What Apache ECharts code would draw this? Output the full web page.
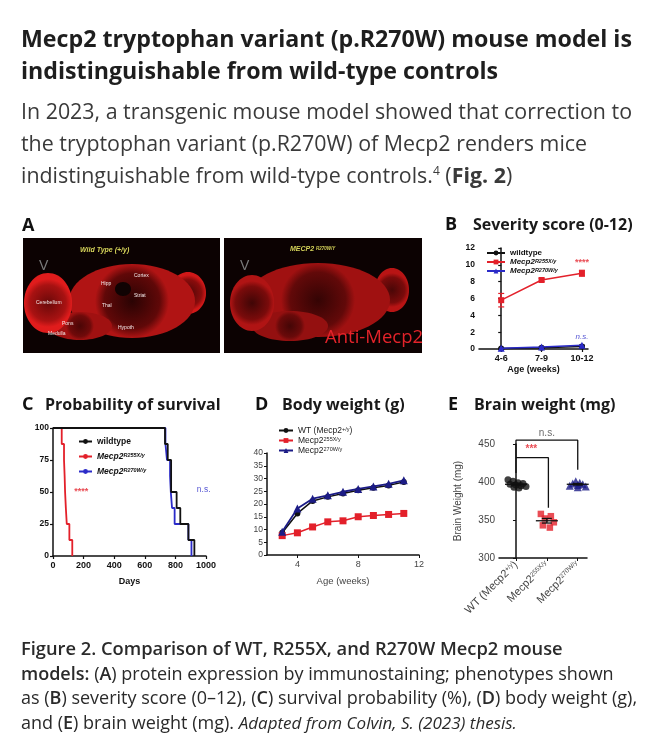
<!DOCTYPE html>
<html><head><meta charset="utf-8">
<script src="https://cdn.jsdelivr.net/npm/echarts@6/dist/echarts.min.js"></script>
<style>
html,body{margin:0;padding:0;background:#fff;width:657px;height:754px;overflow:hidden;}
#chart{position:absolute;left:0;top:0;width:657px;height:754px;}
.t{position:absolute;font-family:"Open Sans",sans-serif;white-space:nowrap;pointer-events:none;}
#title{left:21px;top:22px;font-size:23.2px;line-height:32px;font-weight:700;color:#1e1e1e;}
#para{left:21px;top:95px;font-size:21.4px;line-height:32px;color:#3a3a3a;}
#para sup{font-size:12px;line-height:0;vertical-align:super;}
#cap{left:21px;top:636px;font-size:18px;line-height:24.6px;color:#2a2a2a;}
#cap b{font-weight:600;}
#cap b.w{font-size:18.3px;}
#cap i{font-size:17px;}
.pl{font-size:18px;line-height:18px;font-weight:700;color:#111;}
.pt{font-size:16px;line-height:16px;font-weight:700;color:#1a1a1a;}
</style></head>
<body>
<div id="chart"></div>
<div class="t" id="title">Mecp2 tryptophan variant (p.R270W) mouse model is<br>indistinguishable from wild-type controls</div>
<div class="t" id="para">In 2023, a transgenic mouse model showed that correction to<br>the tryptophan variant (p.R270W) of Mecp2 renders mice<br>indistinguishable from wild-type controls.<sup>4</sup> (<b>Fig. 2</b>)</div>
<div class="t pl" style="left:22px;top:215px;">A</div>
<div class="t pl" style="left:445px;top:214px;">B</div>
<div class="t pt" style="left:473px;top:216px;">Severity score (0-12)</div>
<div class="t pl" style="left:22px;top:394px;">C</div>
<div class="t pt" style="left:45px;top:396px;">Probability of survival</div>
<div class="t pl" style="left:255px;top:394px;">D</div>
<div class="t pt" style="left:282px;top:396px;">Body weight (g)</div>
<div class="t pl" style="left:448px;top:394px;">E</div>
<div class="t pt" style="left:474px;top:396px;">Brain weight (mg)</div>
<div class="t" id="cap"><b class="w">Figure 2. Comparison of WT, R255X, and R270W Mecp2 mouse</b><br><b>models:</b> (<b>A</b>) protein expression by immunostaining; phenotypes shown<br>as (<b>B</b>) severity score (0–12), (<b>C</b>) survival probability (%), (<b>D</b>) body weight (g),<br>and (<b>E</b>) brain weight (mg). <i>Adapted from Colvin, S. (2023) thesis.</i></div>
<script>
// ---------- DATA ----------
const severityCats = ['4-6', '7-9', '10-12'];
const sevWT = [0.05, 0.15, 0.3];
const sevWTErr = [0.05, 0.1, 0.15];
const sevR255X = [5.8, 8.2, 9.0];
const sevR255XErr = [0.8, 0.2, 0.35];
const sevR270W = [0.1, 0.25, 0.45];
const sevR270WErr = [0.05, 0.1, 0.1];

// survival: [day, % surviving from that day on]
const survR255X = [[0,100],[57,87.5],[72,75],[76,62.5],[79,50],[84,37.5],[90,25],[107,12.5],[126,0]];
const survWT = [[0,100],[732,87.5],[750,75],[772,50],[808,37.5],[832,25],[885,12.5],[924,0]];
const survR270W = [[0,100],[735,87.5],[745,75],[765,62.5],[770,50],[778,37.5],[795,25],[885,12.5],[905,0]];

const bwWeeks = [3, 4, 5, 6, 7, 8, 9, 10, 11];
const bwWT = [8.7, 16.3, 21.2, 22.8, 24.1, 25.4, 26.4, 27.3, 28.6];
const bwR270W = [9.1, 18.2, 22.1, 23.4, 24.8, 25.9, 26.9, 27.9, 29.3];
const bwR255X = [7.6, 8.7, 11.0, 13.0, 13.4, 15.0, 15.5, 15.9, 16.3];
const bwXTicks = [4, 8, 12];

const brainCats = ['WT (Mecp2{s|+/y})', 'Mecp2{s|255X/y}', 'Mecp2{s|270W/y}'];
const brainWT = [403, 401, 399, 398, 397, 396, 395, 394, 393, 392];
const brainR255X = [358, 355, 352, 347, 343, 340];
const brainR270W = [401, 399, 398, 397, 396, 395, 394, 393];
const brainMean = [397, 349, 397];
const brainSem = [1.2, 3.0, 1.0];

// ---------- STYLE ----------
const RED = '#e3202a', BLUE = '#2b2bc8', NAVY = '#1c1c86', BLK = '#111';
const F = 'Liberation Sans';
const wtJitter = [-8, -3, 2, 7, -6, 0, 5, 10, -2, 3];
const r255Jitter = [-6, 4, -2, 7, -4, 3];
const r270Jitter = [-2, 2, -5, 5, 0, -8, 8, 0];

const rich = {
  sup: {fontSize: 5.5, verticalAlign: 'top', fontFamily: F},
  supi: {fontSize: 5.5, verticalAlign: 'top', fontFamily: F, fontStyle: 'italic'},
  it: {fontStyle: 'italic', fontFamily: F}
};

const legendNames = {
  sevWT: 'wildtype', sevR255X: '{it|Mecp2}{supi|R255X/y}', sevR270W: '{it|Mecp2}{supi|R270W/y}',
  svWT: 'wildtype', svR255X: '{it|Mecp2}{supi|R255X/y}', svR270W: '{it|Mecp2}{supi|R270W/y}',
  bwWT: 'WT (Mecp2{sup|+/y})', bwR255X: 'Mecp2{sup|255X/y}', bwR270W: 'Mecp2{sup|270W/y}'
};

function errBar(color) {
  return function (params, api) {
    const x = api.value(0), lo = api.value(1), hi = api.value(2);
    const a = api.coord([x, lo]), b = api.coord([x, hi]);
    const w = 3;
    const st = {stroke: color, lineWidth: 1.2};
    return {type: 'group', children: [
      {type: 'line', shape: {x1: a[0], y1: a[1], x2: b[0], y2: b[1]}, style: st},
      {type: 'line', shape: {x1: a[0]-w, y1: a[1], x2: a[0]+w, y2: a[1]}, style: st},
      {type: 'line', shape: {x1: b[0]-w, y1: b[1], x2: b[0]+w, y2: b[1]}, style: st}
    ]};
  };
}

const chart = echarts.init(document.getElementById('chart'), null, {renderer: 'canvas'});

// ---------- Panel A graphics (immunostaining photos, approximated) ----------
function brainGrad(inner, mid, edge) {
  return {type: 'radial', x: 0.5, y: 0.5, r: 0.5, colorStops: [
    {offset: 0, color: inner}, {offset: 0.75, color: mid}, {offset: 1, color: edge}]};
}
const smallLbl = (txt, x, y) => ({type: 'text', left: x, top: y, style: {text: txt, fill: '#f3e8e8', font: '5px ' + F}});
const graphic = [
  {type: 'rect', shape: {x: 23, y: 238, width: 197, height: 115}, style: {fill: '#0c0202'}},
  {type: 'rect', shape: {x: 224, y: 238, width: 198, height: 115}, style: {fill: '#0c0202'}},
  // left brain
  {type: 'ellipse', shape: {cx: 188, cy: 293, rx: 18, ry: 21}, style: {fill: brainGrad('#4a0707', '#8a0c0c', '#d01818')}},
  {type: 'ellipse', shape: {cx: 132, cy: 301, rx: 63, ry: 37}, style: {fill: brainGrad('#2a0303', '#600808', '#b01414')}},
  {type: 'ellipse', shape: {cx: 80, cy: 326, rx: 32, ry: 14}, style: {fill: brainGrad('#4a0606', '#700a0a', '#a01111')}},
  {type: 'ellipse', shape: {cx: 48, cy: 303, rx: 24, ry: 30}, style: {fill: brainGrad('#6a0909', '#a81212', '#e01c1c')}},
  {type: 'ellipse', shape: {cx: 123, cy: 289, rx: 8, ry: 7}, style: {fill: '#100303'}},
  // right brain
  {type: 'ellipse', shape: {cx: 392, cy: 290, rx: 17, ry: 22}, style: {fill: brainGrad('#4a0707', '#7a0b0b', '#b81414')}},
  {type: 'ellipse', shape: {cx: 318, cy: 300, rx: 72, ry: 37}, style: {fill: brainGrad('#340404', '#620909', '#a01111')}},
  {type: 'ellipse', shape: {cx: 290, cy: 326, rx: 38, ry: 15}, style: {fill: brainGrad('#440606', '#6a0a0a', '#941010')}},
  {type: 'ellipse', shape: {cx: 252, cy: 303, rx: 22, ry: 28}, style: {fill: brainGrad('#400606', '#7a0b0b', '#b01414')}},
  // labels
  {type: 'text', left: 39, top: 259, style: {text: 'V', fill: '#7a7a7a', font: '14px ' + F}},
  {type: 'text', left: 240, top: 259, style: {text: 'V', fill: '#7a7a7a', font: '14px ' + F}},
  {type: 'text', left: 80, top: 247, style: {text: 'Wild Type (+/y)', fill: '#d6d45a', font: 'italic bold 7px ' + F}},
  {type: 'text', left: 290, top: 246, style: {text: '{a|MECP2 }{b|R270W/Y}', rich: {a: {fill: '#d6d45a', font: 'italic bold 7px ' + F}, b: {fill: '#d6d45a', font: 'italic bold 4.5px ' + F, verticalAlign: 'top'}}}},
  smallLbl('Cortex', 134, 273), smallLbl('Hipp', 101, 281), smallLbl('Striat', 134, 293),
  smallLbl('Thal', 102, 303), smallLbl('Cerebellum', 36, 300), smallLbl('Pons', 62, 321),
  smallLbl('Medulla', 48, 331), smallLbl('Hypoth', 118, 325),
  {type: 'text', left: 325, top: 328, style: {text: 'Anti-Mecp2', fill: '#e3232a', font: '18.5px "Open Sans", sans-serif'}}
];

const axisLbl = (extra) => Object.assign({fontFamily: F, fontSize: 9, color: '#111', fontWeight: 'bold'}, extra || {});
const axLine = {lineStyle: {color: '#111', width: 1.5}};

const option = {
  animation: false,
  backgroundColor: '#fff',
  graphic: graphic,
  grid: [
    {left: 479, top: 248, width: 109, height: 101},
    {left: 53, top: 428, width: 153, height: 128},
    {left: 267, top: 453, width: 152, height: 102},
    {left: 499, top: 444, width: 88, height: 114}
  ],
  legend: [
    {orient: 'vertical', left: 481, top: 244, itemWidth: 18, itemHeight: 6, itemGap: 1,
     data: ['sevWT', 'sevR255X', 'sevR270W'], formatter: n => legendNames[n],
     textStyle: {fontFamily: F, fontSize: 8, fontWeight: 'bold', color: '#111', rich: rich}},
    {orient: 'vertical', left: 73, top: 432, itemWidth: 13, itemHeight: 6, itemGap: 6,
     data: ['svWT', 'svR255X', 'svR270W'], formatter: n => legendNames[n],
     textStyle: {fontFamily: F, fontSize: 8.5, fontWeight: 'bold', color: '#111', rich: rich}},
    {orient: 'vertical', left: 273, top: 421, itemWidth: 14, itemHeight: 6, itemGap: 1,
     data: ['bwWT', 'bwR255X', 'bwR270W'], formatter: n => legendNames[n],
     textStyle: {fontFamily: F, fontSize: 8.5, color: '#222', rich: rich}}
  ],
  xAxis: [
    {gridIndex: 0, type: 'value', min: -0.55, max: 2.15, axisLine: axLine, splitLine: {show: false},
     axisTick: {customValues: [0, 1, 2], length: 3, lineStyle: {color: '#111', width: 1.2}},
     axisLabel: Object.assign(axisLbl(), {customValues: [0, 1, 2], formatter: v => severityCats[Math.round(v)], margin: 5}),
     name: 'Age (weeks)', nameLocation: 'middle', nameGap: 16, nameTextStyle: axisLbl({fontSize: 9})},
    {gridIndex: 1, type: 'value', min: 0, max: 1000, interval: 200, axisLine: axLine, splitLine: {show: false},
     axisTick: {length: 3, lineStyle: {color: '#111', width: 1.2}},
     axisLabel: axisLbl({margin: 5, formatter: v => String(v)}),
     name: 'Days', nameLocation: 'middle', nameGap: 21, nameTextStyle: axisLbl({fontSize: 9})},
    {gridIndex: 2, type: 'value', min: 2, max: 12, axisLine: axLine, splitLine: {show: false},
     axisTick: {customValues: bwXTicks, length: 3, lineStyle: {color: '#111'}},
     axisLabel: {customValues: bwXTicks, fontFamily: F, fontSize: 9, color: '#444', margin: 5},
     name: 'Age (weeks)', nameLocation: 'middle', nameGap: 21, nameTextStyle: {fontFamily: F, fontSize: 9.5, color: '#444'}},
    {gridIndex: 3, type: 'value', min: -0.55, max: 2.3, axisLine: axLine, splitLine: {show: false},
     axisTick: {customValues: [0, 1, 2], length: 3, lineStyle: {color: '#111'}},
     axisLabel: {customValues: [0, 1, 2], rotate: 45, margin: 5, fontFamily: F, fontSize: 11, color: '#444',
       formatter: v => brainCats[Math.round(v)],
       rich: {s: {fontSize: 6.5, verticalAlign: 'top', fontFamily: F, color: '#444'}}}}
  ],
  yAxis: [
    {gridIndex: 0, type: 'value', min: 0, max: 12, interval: 2, axisLine: Object.assign({show: true}, axLine), splitLine: {show: false},
     axisTick: {show: true, length: 3, lineStyle: {color: '#111', width: 1.2}}, axisLabel: axisLbl({margin: 4, fontSize: 8.5})},
    {gridIndex: 1, type: 'value', min: 0, max: 100, interval: 25, axisLine: Object.assign({show: true}, axLine), splitLine: {show: false},
     axisTick: {show: true, length: 3, lineStyle: {color: '#111', width: 1.2}}, axisLabel: axisLbl({margin: 4, fontSize: 8.5})},
    {gridIndex: 2, type: 'value', min: 0, max: 40, interval: 5, axisLine: Object.assign({show: true}, axLine), splitLine: {show: false},
     axisTick: {show: true, length: 3, lineStyle: {color: '#111'}}, axisLabel: {fontFamily: F, fontSize: 8.5, color: '#444', margin: 4}},
    {gridIndex: 3, type: 'value', min: 300, max: 450, interval: 50, axisLine: Object.assign({show: true}, axLine), splitLine: {show: false},
     axisTick: {show: true, length: 3, lineStyle: {color: '#111'}}, axisLabel: {fontFamily: F, fontSize: 10, color: '#444', margin: 4},
     name: 'Brain Weight (mg)', nameLocation: 'middle', nameGap: 36, nameTextStyle: {fontFamily: F, fontSize: 10, color: '#444'}}
  ],
  series: [
    // ---- B severity ----
    {type: 'custom', xAxisIndex: 0, yAxisIndex: 0, renderItem: errBar(RED), data: sevR255X.map((v, i) => [i, v - sevR255XErr[i], v + sevR255XErr[i]]), z: 3},
    {type: 'custom', xAxisIndex: 0, yAxisIndex: 0, renderItem: errBar(BLK), data: sevWT.map((v, i) => [i, v - sevWTErr[i], v + sevWTErr[i]]), z: 3},
    {name: 'sevWT', type: 'line', xAxisIndex: 0, yAxisIndex: 0, data: sevWT.map((v, i) => [i, v]),
     symbol: 'circle', symbolSize: 6, itemStyle: {color: BLK}, lineStyle: {color: BLK, width: 1.5}, z: 4},
    {name: 'sevR255X', type: 'line', xAxisIndex: 0, yAxisIndex: 0, data: sevR255X.map((v, i) => [i, v]),
     symbol: 'rect', symbolSize: 6, itemStyle: {color: RED}, lineStyle: {color: RED, width: 1.5}, z: 4},
    {name: 'sevR270W', type: 'line', xAxisIndex: 0, yAxisIndex: 0, data: sevR270W.map((v, i) => [i, v]),
     symbol: 'triangle', symbolSize: 7, itemStyle: {color: BLUE}, lineStyle: {color: BLUE, width: 1.5}, z: 5},
    {type: 'scatter', xAxisIndex: 0, yAxisIndex: 0, symbolSize: 0, clip: false, silent: true,
     data: [{value: [2, 10.3], label: {show: true, formatter: '****', color: RED, fontSize: 9, fontWeight: 'bold', fontFamily: F}},
            {value: [2, 1.5], label: {show: true, formatter: 'n.s.', color: BLUE, fontSize: 8, fontStyle: 'italic', fontFamily: F}}],
     label: {position: 'inside'}},
    // ---- C survival ----
    {name: 'svR270W', type: 'line', xAxisIndex: 1, yAxisIndex: 1, step: 'end', data: survR270W, symbol: 'none',
     lineStyle: {color: BLUE, width: 1.8}, itemStyle: {color: BLUE}, z: 3},
    {name: 'svWT', type: 'line', xAxisIndex: 1, yAxisIndex: 1, step: 'end', data: survWT, symbol: 'none',
     lineStyle: {color: BLK, width: 1.8}, itemStyle: {color: BLK}, z: 4},
    {name: 'svR255X', type: 'line', xAxisIndex: 1, yAxisIndex: 1, step: 'end', data: survR255X, symbol: 'none',
     lineStyle: {color: RED, width: 1.8}, itemStyle: {color: RED}, z: 3},
    {type: 'scatter', xAxisIndex: 1, yAxisIndex: 1, symbolSize: 0, clip: false, silent: true,
     data: [{value: [185, 50], label: {show: true, formatter: '****', color: RED, fontSize: 9, fontWeight: 'bold', fontFamily: F}},
            {value: [985, 52], label: {show: true, formatter: 'n.s.', color: BLUE, fontSize: 8.5, fontFamily: F}}],
     label: {position: 'inside'}},
    // ---- D body weight ----
    {name: 'bwWT', type: 'line', xAxisIndex: 2, yAxisIndex: 2, data: bwWeeks.map((w, i) => [w, bwWT[i]]),
     symbol: 'circle', symbolSize: 6, itemStyle: {color: BLK}, lineStyle: {color: BLK, width: 1.5}, z: 4},
    {name: 'bwR255X', type: 'line', xAxisIndex: 2, yAxisIndex: 2, data: bwWeeks.map((w, i) => [w, bwR255X[i]]),
     symbol: 'rect', symbolSize: 7, itemStyle: {color: RED}, lineStyle: {color: RED, width: 1.5}, z: 4},
    {name: 'bwR270W', type: 'line', xAxisIndex: 2, yAxisIndex: 2, data: bwWeeks.map((w, i) => [w, bwR270W[i]]),
     symbol: 'triangle', symbolSize: 8, itemStyle: {color: NAVY}, lineStyle: {color: NAVY, width: 1.8}, z: 5},
    // ---- E brain weight ----
    {type: 'scatter', xAxisIndex: 3, yAxisIndex: 3, symbol: 'circle', symbolSize: 7, itemStyle: {color: BLK},
     data: brainWT.map((v, i) => ({value: [0, v], symbolOffset: [wtJitter[i], 0]})), z: 3},
    {type: 'scatter', xAxisIndex: 3, yAxisIndex: 3, symbol: 'rect', symbolSize: 6.5, itemStyle: {color: RED},
     data: brainR255X.map((v, i) => ({value: [1, v], symbolOffset: [r255Jitter[i], 0]})), z: 3},
    {type: 'scatter', xAxisIndex: 3, yAxisIndex: 3, symbol: 'triangle', symbolSize: 8, itemStyle: {color: NAVY},
     data: brainR270W.map((v, i) => ({value: [2, v], symbolOffset: [r270Jitter[i], 0]})), z: 3},
    {type: 'custom', xAxisIndex: 3, yAxisIndex: 3, z: 4,
     renderItem: function (params, api) {
       const x = api.value(0), m = api.value(1), s = api.value(2);
       const c = api.coord([x, m]), lo = api.coord([x, m - s]), hi = api.coord([x, m + s]);
       const st = {stroke: '#111', lineWidth: 1.3};
       return {type: 'group', children: [
         {type: 'line', shape: {x1: c[0] - 11, y1: c[1], x2: c[0] + 11, y2: c[1]}, style: st},
         {type: 'line', shape: {x1: c[0], y1: lo[1], x2: c[0], y2: hi[1]}, style: st},
         {type: 'line', shape: {x1: c[0] - 5, y1: lo[1], x2: c[0] + 5, y2: lo[1]}, style: st},
         {type: 'line', shape: {x1: c[0] - 5, y1: hi[1], x2: c[0] + 5, y2: hi[1]}, style: st}
       ]};
     },
     data: brainMean.map((m, i) => [i, m, brainSem[i]])},
    {type: 'line', xAxisIndex: 3, yAxisIndex: 3, clip: false, symbol: 'none', silent: true,
     lineStyle: {color: '#111', width: 1.3}, data: [[0, 412], [0, 455], [2, 455], [2, 416]]},
    {type: 'line', xAxisIndex: 3, yAxisIndex: 3, clip: false, symbol: 'none', silent: true,
     lineStyle: {color: '#111', width: 1.3}, data: [[0, 432], [1.05, 432], [1.05, 366]]},
    {type: 'scatter', xAxisIndex: 3, yAxisIndex: 3, symbolSize: 0, clip: false, silent: true,
     data: [{value: [1, 464], label: {show: true, formatter: 'n.s.', color: '#444', fontSize: 10, fontFamily: F}},
            {value: [0.5, 443], label: {show: true, formatter: '***', color: RED, fontSize: 10, fontWeight: 'bold', fontFamily: F}}],
     label: {position: 'inside'}}
  ]
};
chart.setOption(option);
</script>
</body></html>
